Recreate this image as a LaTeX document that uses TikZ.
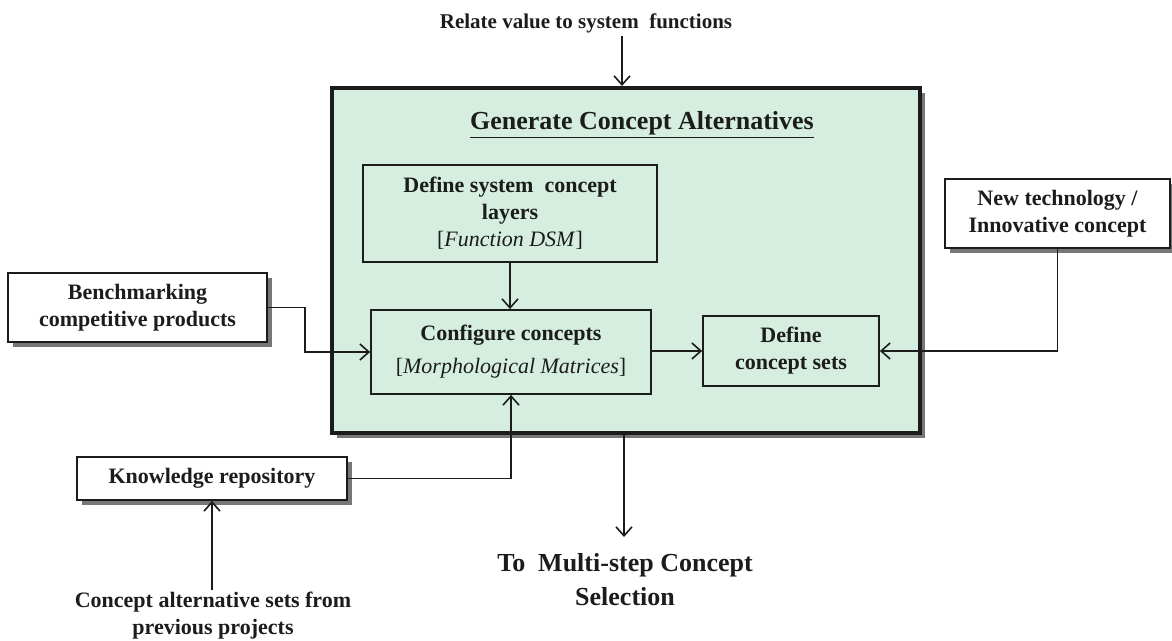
\documentclass[tikz,border=0pt]{standalone}
\usepackage{fontspec}
\setmainfont{Liberation Serif}
\usetikzlibrary{arrows.meta,calc,positioning,shadows}
\definecolor{gcInk}{HTML}{1C1C1C}
\definecolor{gcFill}{HTML}{D5EEE0}
\definecolor{gcShade}{HTML}{4A4A4A}
\tikzset{
 flow/.style={font=\bfseries\fontsize{11}{13.5}\selectfont,text=gcInk,line join=miter},
 outerbox/.style={rectangle,draw=gcInk,fill=white,line width=.9pt,align=center,inner sep=2pt,
   drop shadow={shadow xshift=2.4pt,shadow yshift=-2.4pt,fill=gcShade,opacity=.75}},
 innerbox/.style={rectangle,draw=gcInk,line width=.9pt,align=center,inner sep=2pt},
 frame/.style={rectangle,draw=gcInk,fill=gcFill,line width=2pt,
   drop shadow={shadow xshift=2.6pt,shadow yshift=-2.6pt,fill=gcShade,opacity=.75}},
 caption/.style={align=center,inner sep=1pt},
 link/.style={draw=gcInk,line width=.8pt},
 arr/.style={link,-{Straight Barb[length=4.5pt,width=8pt]}}
}

\begin{document}
\begin{tikzpicture}[flow,x=.5pt,y=-.5pt]
 \useasboundingbox (0,0) rectangle (1172,641);
 % surrounding frame
 \node[frame,minimum width=294pt,minimum height=172.5pt] (gen) at (626,260.5) {};
 \node[caption,font=\bfseries\fontsize{13}{15}\selectfont] (genT) at (642,125)
   {\underline{Generate Concept Alternatives}};
 % inner steps
 \node[innerbox,minimum width=147pt,minimum height=48.5pt] (layers) at (510,213.5)
   {Define system\ \ concept\\layers\\{\mdseries[\textit{Function DSM}]}};
 \node[innerbox,minimum width=140pt,minimum height=42pt] (config) at (511,352)
   {Configure concepts\\[3pt]{\mdseries[\textit{Morphological Matrices}]}};
 \node[innerbox,minimum width=88pt,minimum height=35pt] (sets) at (791,351)
   {Define\\concept sets};
 % inputs
 \node[caption,font=\bfseries\fontsize{10.5}{13}\selectfont] (value) at (586,23)
   {Relate value to system\ \ functions};
 \node[outerbox,minimum width=112.5pt,minimum height=34.5pt] (newtech) at (1057.5,213.5)
   {New technology /\\Innovative concept};
 \node[outerbox,minimum width=129.5pt,minimum height=34.5pt] (bench) at (137.5,307.5)
   {Benchmarking\\competitive products};
 \node[outerbox,minimum width=135pt,minimum height=21.5pt] (repo) at (212,478.5)
   {Knowledge repository};
 \node[caption] (prev) at (213,616) {Concept alternative sets from\\previous projects};
 \node[caption,font=\bfseries\fontsize{13}{17}\selectfont] (out) at (625,580)
   {To\ \ Multi-step Concept\\Selection};
 \coordinate (inV) at (622,36);
 \coordinate (outV) at (624,537);
 % connectors
 \draw[arr] (inV) -- (inV |- gen.north);
 \draw[arr] (layers.south) -- (layers.south |- config.north);
 \draw[arr] (config.east |- sets.west) -- (sets.west);
 \draw[arr] (newtech.south) |- (sets.east);
 \draw[arr] (bench.east) -- ++(37,0) |- (config.west);
 \draw[arr] (repo.east) -| (config.south);
 \draw[arr] (gen.south -| outV) -- (outV);
 \draw[arr] (prev.north -| repo.south) -- (repo.south);
\end{tikzpicture}
\end{document}
